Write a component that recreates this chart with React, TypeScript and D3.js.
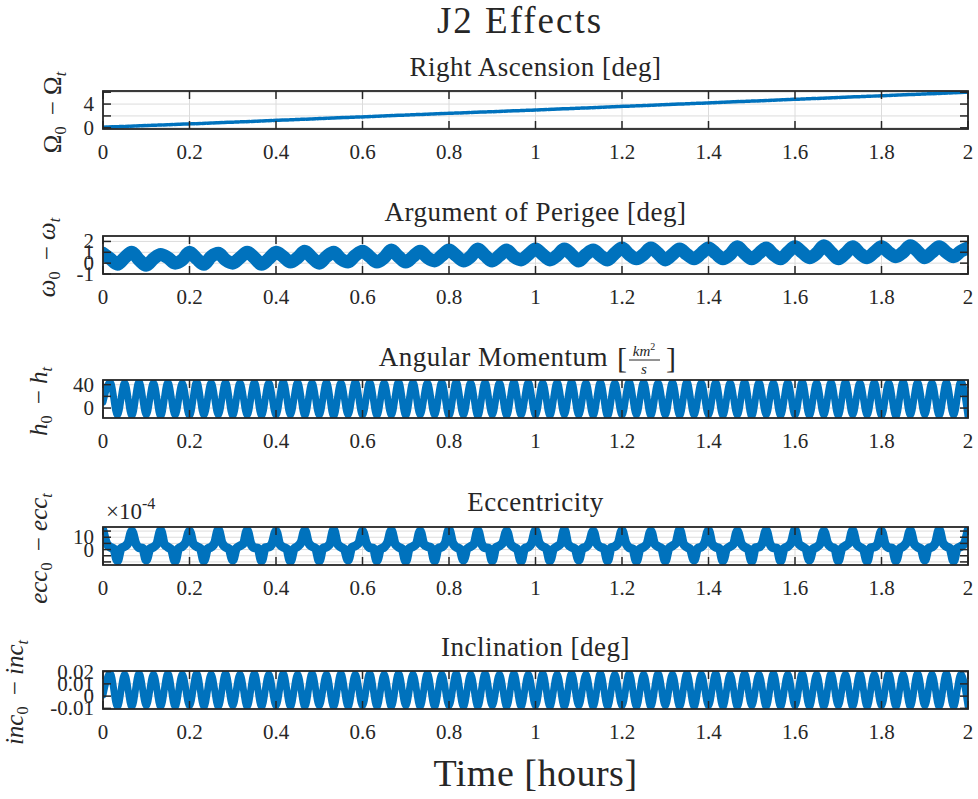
import React from 'react';
import * as d3 from 'd3';

// ---------- data ----------
const xTickValues = [0, 0.2, 0.4, 0.6, 0.8, 1, 1.2, 1.4, 1.6, 1.8, 2];
const xTickLabels = ['0', '0.2', '0.4', '0.6', '0.8', '1', '1.2', '1.4', '1.6', '1.8', '2'];

// Right ascension drift [deg]
const raanTimes = [0, 0.25, 0.5, 0.75, 1, 1.25, 1.5, 1.75, 2];
const raanValues = [0.1, 0.8, 1.55, 2.3, 3.0, 3.75, 4.5, 5.25, 6.0];

// Argument of perigee [deg] – peak, mid, trough, mid per cycle (evenly spread over 0..2 h)
const omegaValues = [
  0.9, 0.4, -0.1, 0.5, 1.0, 0.3, -0.2, 0.4, 0.8, 0.5, 0.0, 0.3, 1.0, 0.4, -0.1, 0.6, 0.9, 0.3, 0.0, 0.5,
  1.0, 0.5, -0.1, 0.4, 1.0, 0.6, 0.1, 0.5, 1.1, 0.5, 0.0, 0.6, 1.0, 0.4, 0.1, 0.7, 1.1, 0.6, 0.1, 0.5,
  1.2, 0.6, 0.1, 0.6, 1.1, 0.5, 0.2, 0.7, 1.2, 0.7, 0.2, 0.6, 1.3, 0.7, 0.2, 0.7, 1.2, 0.6, 0.3, 0.8,
  1.3, 0.8, 0.3, 0.7, 1.3, 0.8, 0.2, 0.8, 1.2, 0.7, 0.3, 0.9, 1.4, 0.8, 0.4, 0.8, 1.4, 0.9, 0.3, 0.8,
  1.3, 0.8, 0.4, 0.9, 1.4, 0.9, 0.4, 0.8, 1.5, 0.9, 0.4, 0.9, 1.4, 0.8, 0.4, 1.0, 1.5, 1.0, 0.5, 0.9,
  1.6, 1.0, 0.4, 0.9, 1.5, 0.9, 0.5, 1.0, 1.5, 1.0, 0.6, 1.0, 1.6, 1.1, 0.5, 1.0, 1.5, 1.0, 0.6, 1.1,
  1.4,
];

// Angular momentum [km^2/s] – successive extremes
const hValues = [
  10,
  45, -13, 44, -14, 46, -12, 44, -15, 45, -13, 43, -14, 46, -13, 44, -12, 45, -14, 44, -13,
  45, -14, 44, -13, 46, -12, 45, -14, 44, -13, 45, -15, 44, -12, 46, -13, 45, -14, 44, -13,
  46, -14, 45, -12, 44, -13, 45, -14, 46, -13, 44, -15, 45, -12, 44, -14, 46, -13, 45, -13,
  44, -14, 45, -12, 46, -13, 44, -14, 45, -15, 44, -13, 46, -12, 45, -14, 44, -13, 45, -14,
  46, -13, 44, -12, 45, -14, 44, -13, 46, -15, 45, -12, 44, -14, 45, -13, 46, -14, 44, -13,
  45, -14, 46, -12, 44, -13, 45, -14, 44, -15, 46, -13, 45, -12, 44, -14, 45, -13, 46, -14,
];

// Eccentricity (x1e-4) – per cycle: peak, shoulder..., dip, shoulder...
const eccValues = [
  15.5, 5, 2, 0.5, -9, 1, 2.5, 5.5, 15, 5.5, 1.5, 1, -8.5, 0.5, 2, 5, 15.5, 4.5, 2, 0, -9.5, 1, 2.5, 6,
  15, 5, 2.5, 1, -9, 0.5, 2, 5.5, 16, 5.5, 2, 0.5, -8.5, 1, 3, 5, 15.5, 5, 1.5, 1, -9, 1.5, 2, 5.5,
  15, 4.5, 2, 0.5, -9.5, 0.5, 2.5, 6, 15.5, 5.5, 2.5, 1, -9, 1, 2, 5, 16, 5, 2, 0, -8.5, 1.5, 3, 5.5,
  15, 5.5, 1.5, 1, -9, 0.5, 2, 6, 15.5, 5, 2, 0.5, -9.5, 1, 2.5, 5, 15, 4.5, 2.5, 1.5, -9, 1, 2, 5.5,
  16, 5.5, 2, 0.5, -8.5, 0.5, 2.5, 5, 15.5, 5, 1.5, 1, -9, 1.5, 3, 6, 15, 5, 2, 0, -9.5, 1, 2, 5.5,
  15.5, 5.5, 2.5, 1, -9, 0.5, 2.5, 5, 16, 4.5, 2, 0.5, -8.5, 1, 2, 6, 15, 5, 2, 1, -9, 1.5, 2.5, 5.5,
  15.5, 5.5, 1.5, 0.5, -9.5, 0.5, 2, 5, 15, 5, 2.5, 1, -9, 1, 3, 5.5, 16, 5, 2, 0, -8.5, 1, 2, 6,
  15.5, 4.5, 2, 1, -9, 0.5, 2.5, 5, 15, 5.5, 2, 0.5, -9.5, 1.5, 2, 5.5, 15.5, 5, 1.5, 1, -9, 1, 2.5, 6,
  16, 5, 2.5, 0.5, -8.5, 0.5, 2, 5, 15, 5.5, 2, 1, -9, 1, 3, 5.5, 15.5, 5, 2, 0, -9.5, 1.5, 2, 5,
  15, 4.5, 1.5, 1, -9, 0.5, 2.5, 6, 15.5, 5, 2, 0.5, -8.5, 1, 2, 5.5, 16, 5.5, 2.5, 1, -9, 1, 2.5, 5,
  15.5,
];

// Inclination [deg] – successive extremes
const incValues = [
  0.001,
  0.019, -0.009, 0.018, -0.009, 0.019, -0.008, 0.018, -0.009, 0.019, -0.009, 0.018, -0.008, 0.019, -0.009, 0.018, -0.009, 0.019, -0.008, 0.018, -0.009,
  0.019, -0.009, 0.018, -0.008, 0.019, -0.009, 0.018, -0.009, 0.019, -0.008, 0.018, -0.009, 0.019, -0.009, 0.018, -0.008, 0.019, -0.009, 0.018, -0.009,
  0.019, -0.008, 0.018, -0.009, 0.019, -0.009, 0.018, -0.008, 0.019, -0.009, 0.018, -0.009, 0.019, -0.008, 0.018, -0.009, 0.019, -0.009, 0.018, -0.008,
  0.019, -0.009, 0.018, -0.009, 0.019, -0.008, 0.018, -0.009, 0.019, -0.009, 0.018, -0.008, 0.019, -0.009, 0.018, -0.009, 0.019, -0.008, 0.018, -0.009,
  0.019, -0.009, 0.018, -0.008, 0.019, -0.009, 0.018, -0.009, 0.019, -0.008, 0.018, -0.009, 0.019, -0.009, 0.018, -0.008, 0.019, -0.009, 0.018, -0.009,
  0.019, -0.008, 0.018, -0.009, 0.019, -0.009, 0.018, -0.008, 0.019, -0.009, 0.018, -0.009, 0.019, -0.008, 0.018, -0.009, 0.019, -0.009, 0.018, -0.008,
];

// ---------- layout ----------
const W = 978;
const H = 799;
const LEFT = 103;
const RIGHT = 968;
const PH = 38;
const FONT = '"Liberation Serif", "Times New Roman", serif';
const BLUE = '#0072BD';
const AXIS = '#262626';
const TITLE_FS = 27;

type PanelCfg = {
  id: string;
  top: number;
  domain: [number, number];
  ticks: number[];
  labels: { v: number; t: string }[];
  times: number[];
  values: number[];
  width: number;
  curve: d3.CurveFactory;
  dash?: string;
};

function evenTimes(n: number) {
  const s = d3.scaleLinear().domain([0, n - 1]).range([0, 2]);
  return d3.range(n).map((i) => s(i));
}

const panels: PanelCfg[] = [
  {
    id: 'p1', top: 91, domain: [-0.2, 6.2], ticks: [0, 2, 4, 6],
    labels: [{ v: 0, t: '0' }, { v: 4, t: '4' }],
    times: raanTimes, values: raanValues, width: 3.5, curve: d3.curveLinear, dash: '4 1.5',
  },
  {
    id: 'p2', top: 236, domain: [-1, 2.5], ticks: [-1, 0, 1, 2],
    labels: [{ v: -1, t: '-1' }, { v: 0, t: '0' }, { v: 1, t: '1' }, { v: 2, t: '2' }],
    times: evenTimes(omegaValues.length), values: omegaValues, width: 13, curve: d3.curveMonotoneX,
  },
  {
    id: 'p3', top: 380, domain: [-17, 48], ticks: [0, 20, 40],
    labels: [{ v: 0, t: '0' }, { v: 40, t: '40' }],
    times: evenTimes(hValues.length), values: hValues, width: 7, curve: d3.curveMonotoneX,
  },
  {
    id: 'p4', top: 527, domain: [-12.5, 18.3], ticks: [-10, -5, 0, 5, 10, 15],
    labels: [{ v: 0, t: '0' }, { v: 10, t: '10' }],
    times: evenTimes(eccValues.length), values: eccValues, width: 9, curve: d3.curveMonotoneX,
  },
  {
    id: 'p5', top: 671, domain: [-0.0105, 0.0205], ticks: [-0.01, 0, 0.01, 0.02],
    labels: [{ v: -0.01, t: '-0.01' }, { v: 0, t: '0' }, { v: 0.01, t: '0.01' }, { v: 0.02, t: '0.02' }],
    times: evenTimes(incValues.length), values: incValues, width: 7, curve: d3.curveMonotoneX,
  },
];

const x = d3.scaleLinear().domain([0, 2]).range([LEFT, RIGHT]);

function Panel({ cfg }: { cfg: PanelCfg }) {
  const y = d3.scaleLinear().domain(cfg.domain).range([cfg.top + PH, cfg.top]);
  const line = d3
    .line<number>()
    .x((_, i) => x(cfg.times[i]))
    .y((d) => y(d))
    .curve(cfg.curve);
  const bottom = cfg.top + PH;
  const tl = 8;
  return (
    <g>
      <defs>
        <clipPath id={`clip-${cfg.id}`}>
          <rect x={LEFT} y={cfg.top} width={RIGHT - LEFT} height={PH} />
        </clipPath>
      </defs>
      <rect x={LEFT} y={cfg.top} width={RIGHT - LEFT} height={PH} fill="#fff" />
      {xTickValues.map((t) => (
        <line key={`gx${t}`} x1={x(t)} x2={x(t)} y1={cfg.top} y2={bottom} stroke="#dcdcdc" strokeWidth={1} />
      ))}
      {cfg.ticks.map((t) => (
        <line key={`gy${t}`} x1={LEFT} x2={RIGHT} y1={y(t)} y2={y(t)} stroke="#dcdcdc" strokeWidth={1} />
      ))}
      <path
        d={line(cfg.values) || ''}
        fill="none"
        stroke={BLUE}
        strokeWidth={cfg.width}
        strokeLinejoin="round"
        strokeLinecap="round"
        strokeDasharray={cfg.dash}
        clipPath={`url(#clip-${cfg.id})`}
      />
      {xTickValues.map((t) => (
        <g key={`tx${t}`}>
          <line x1={x(t)} x2={x(t)} y1={bottom} y2={bottom - tl} stroke={AXIS} strokeWidth={1.5} />
          <line x1={x(t)} x2={x(t)} y1={cfg.top} y2={cfg.top + tl} stroke={AXIS} strokeWidth={1.5} />
        </g>
      ))}
      {cfg.ticks.map((t) => (
        <g key={`ty${t}`}>
          <line x1={LEFT} x2={LEFT + tl} y1={y(t)} y2={y(t)} stroke={AXIS} strokeWidth={1.5} />
          <line x1={RIGHT} x2={RIGHT - tl} y1={y(t)} y2={y(t)} stroke={AXIS} strokeWidth={1.5} />
        </g>
      ))}
      <rect x={LEFT} y={cfg.top} width={RIGHT - LEFT} height={PH} fill="none" stroke={AXIS} strokeWidth={1.8} />
      {xTickValues.map((t, i) => (
        <text key={`lx${t}`} x={x(t)} y={bottom + 30} textAnchor="middle" fontSize={21} fill={AXIS} fontFamily={FONT}>
          {xTickLabels[i]}
        </text>
      ))}
      {cfg.labels.map((l) => (
        <text key={`ly${l.v}`} x={94} y={y(l.v) + 7} textAnchor="end" fontSize={21} fill={AXIS} fontFamily={FONT}>
          {l.t}
        </text>
      ))}
    </g>
  );
}

export default function App() {
  const cx = (LEFT + RIGHT) / 2;
  const ylab = (px: number, top: number, main: React.ReactNode) => (
    <text
      transform={`translate(${px},${top + PH / 2}) rotate(-90)`}
      textAnchor="middle"
      fontSize={25}
      fill={AXIS}
      fontFamily={FONT}
    >
      {main}
    </text>
  );
  const sub = (s: string, italic = false) => (
    <>
      <tspan dy={5} fontSize={16} fontStyle={italic ? 'italic' : 'normal'}>{s}</tspan>
      <tspan dy={-5}>{'\u2009'}</tspan>
    </>
  );
  const it = (s: string) => <tspan fontStyle="italic">{s}</tspan>;
  return (
    <svg width={W} height={H} style={{ position: 'absolute', left: 0, top: 0, background: '#fff' }}>
      <rect width={W} height={H} fill="#fff" />
      <text x={520} y={33} textAnchor="middle" fontSize={37} letterSpacing={2} fill={AXIS} fontFamily={FONT}>J2 Effects</text>

      <text x={cx} y={76} textAnchor="middle" fontSize={TITLE_FS} letterSpacing={0.5} fill={AXIS} fontFamily={FONT}>Right Ascension [deg]</text>
      <text x={cx} y={221} textAnchor="middle" fontSize={TITLE_FS} letterSpacing={0.5} fill={AXIS} fontFamily={FONT}>Argument of Perigee [deg]</text>
      <text x={608} y={366} textAnchor="end" fontSize={TITLE_FS} letterSpacing={0.5} fill={AXIS} fontFamily={FONT}>Angular Momentum</text>
      <g fontFamily={FONT} fill={AXIS}>
        <text x={617} y={368} fontSize={30}>[</text>
        <text x={644} y={356} textAnchor="middle" fontSize={15} fontStyle="italic">km<tspan dy={-6} fontSize={10} fontStyle="normal">2</tspan></text>
        <line x1={629} x2={660} y1={360} y2={360} stroke={AXIS} strokeWidth={1} />
        <text x={644} y={374} textAnchor="middle" fontSize={15} fontStyle="italic">s</text>
        <text x={666} y={368} fontSize={30}>]</text>
      </g>
      <text x={cx} y={511} textAnchor="middle" fontSize={TITLE_FS} letterSpacing={0.5} fill={AXIS} fontFamily={FONT}>Eccentricity</text>
      <text x={cx} y={656} textAnchor="middle" fontSize={TITLE_FS} letterSpacing={0.5} fill={AXIS} fontFamily={FONT}>Inclination [deg]</text>

      <text x={106} y={519} fontSize={23} fill={AXIS} fontFamily={FONT}>
        ×10<tspan dy={-10} fontSize={16}>-4</tspan>
      </text>

      {panels.map((p) => (
        <Panel key={p.id} cfg={p} />
      ))}

      {ylab(61, 91, <>Ω{sub('0')} − Ω{sub('t', true)}</>)}
      {ylab(55, 236, <>{it('ω')}{sub('0')} − {it('ω')}{sub('t', true)}</>)}
      {ylab(47, 380, <>{it('h')}{sub('0')} − {it('h')}{sub('t', true)}</>)}
      {ylab(47, 527, <>{it('ecc')}{sub('0')} − {it('ecc')}{sub('t', true)}</>)}
      {ylab(23, 671, <>{it('inc')}{sub('0')} − {it('inc')}{sub('t', true)}</>)}

      <text x={cx} y={786} textAnchor="middle" fontSize={38} letterSpacing={0.5} fill={AXIS} fontFamily={FONT}>Time [hours]</text>
    </svg>
  );
}
